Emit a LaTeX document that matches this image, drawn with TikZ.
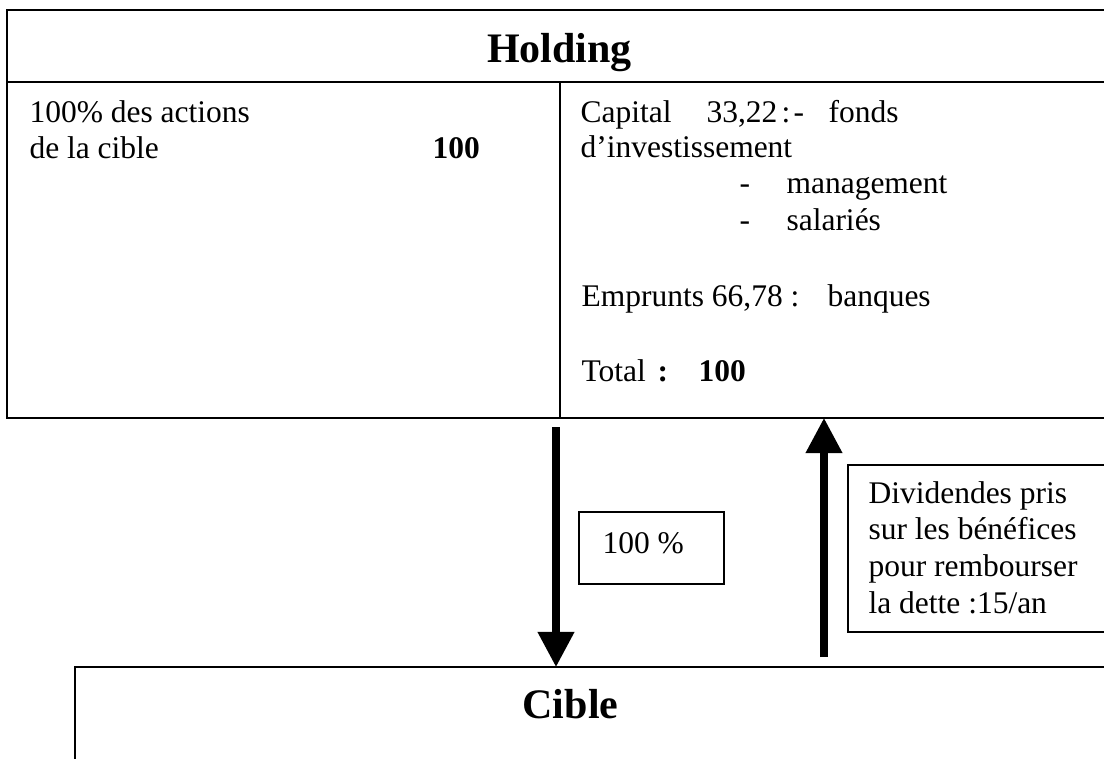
\documentclass[tikz,border=0pt]{standalone}
\usepackage{fontspec}
\setmainfont{Liberation Serif}
\usetikzlibrary{arrows.meta}
\begin{document}
\begin{tikzpicture}[x=0.381pt,y=-0.381pt,
  txt/.style={anchor=base west,inner sep=0pt,font=\fontsize{12}{13.8}\selectfont},
  boldtxt/.style={txt,font=\fontsize{12}{13.8}\selectfont\bfseries},
  titletxt/.style={anchor=base,inner sep=0pt,font=\fontsize{16}{18}\selectfont\bfseries},
  frame/.style={draw,line width=0.6pt},
  cibleframe/.style={draw,line width=0.8pt},
  bigarrow/.style={line width=2.7pt,-{Triangle[width=13.4pt,length=13.4pt]}}]
\useasboundingbox (0,0) rectangle (1104,758);
\clip (0,0) rectangle (1104,758);

% Holding frame
\coordinate (hTL) at (7,10);
\coordinate (hTR) at (1115,10);
\coordinate (hML) at (7,82);
\coordinate (hMR) at (1115,82);
\coordinate (hBL) at (7,418);
\coordinate (hBR) at (1115,418);
\coordinate (hDivT) at (560,82);
\coordinate (hDivB) at (560,418);
\draw[frame] (hTR) -- (hTL) -- (hBL) -- (hBR);
\draw[frame] (hML) -- (hMR);
\draw[frame] (hDivT) -- (hDivB);

\node[titletxt] (holding) at (559.5,62) {Holding};

% left column
\node[txt] (actions1) at (29,122) {100\% des actions};
\node[txt] (actions2) at (29,158) {de la cible};
\node[boldtxt] (actval) at (432,158) {100};

% right column
\node[txt] (capital) at (580,122) {Capital};
\node[txt] (capval) at (706,122) {33,22};
\node[txt] (capcolon) at (781,122) {:};
\node[txt] (capdash) at (793,122) {-};
\node[txt] (fonds) at (828,122) {fonds};
\node[txt] (invest) at (580,157) {d’investissement};
\node[txt] (dash2) at (739,193) {-};
\node[txt] (mgmt) at (786,193) {management};
\node[txt] (dash3) at (739,230) {-};
\node[txt] (sal) at (786,230) {salariés};
\node[txt] (emprunts) at (581,306) {Emprunts 66,78 :};
\node[txt] (banques) at (827,306) {banques};
\node[txt] (total) at (581,381) {Total};
\node[boldtxt] (totcolon) at (657,381) {:};
\node[boldtxt] (totval) at (698,381) {100};

% Cible frame
\coordinate (cBL) at (75,770);
\coordinate (cTL) at (75,667);
\coordinate (cTR) at (1115,667);
\draw[cibleframe] (cBL) -- (cTL) -- (cTR);
\node[titletxt] (cible) at (570.5,718) {Cible};

% arrows
\coordinate (downStart) at (556,427);
\coordinate (downEnd) at (556,667);
\coordinate (upStart) at (824,657);
\coordinate (upEnd) at (824,418);
\draw[bigarrow] (downStart) -- (downEnd);
\draw[bigarrow] (upStart) -- (upEnd);

% 100 % box
\coordinate (pctTL) at (579,512);
\coordinate (pctBR) at (724,584);
\draw[frame] (pctTL) rectangle (pctBR);
\node[txt] (pct) at (602,553) {100 \%};

% dividend box
\coordinate (divTL) at (848,465);
\coordinate (divTR) at (1115,465);
\coordinate (divBL) at (848,632);
\coordinate (divBR) at (1115,632);
\draw[frame] (divTR) -- (divTL) -- (divBL) -- (divBR);
\node[txt] (div1) at (868,503) {Dividendes pris};
\node[txt] (div2) at (868,539) {sur les bénéfices};
\node[txt] (div3) at (868,576) {pour rembourser};
\node[txt] (div4) at (868,613) {la dette :15/an};
\end{tikzpicture}
\end{document}
